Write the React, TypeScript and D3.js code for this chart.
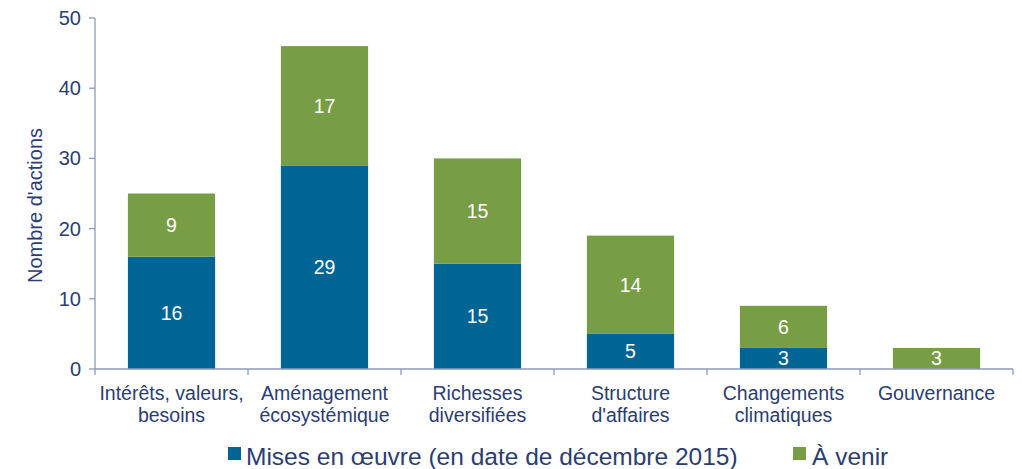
import React from "react";
import * as d3 from "d3";

const categories = [
  ["Intérêts, valeurs,", "besoins"],
  ["Aménagement", "écosystémique"],
  ["Richesses", "diversifiées"],
  ["Structure", "d'affaires"],
  ["Changements", "climatiques"],
  ["Gouvernance"],
];
const misesEnOeuvre = [16, 29, 15, 5, 3, 0];
const aVenir = [9, 17, 15, 14, 6, 3];
const yTicks = [0, 10, 20, 30, 40, 50];
const seriesNames = ["Mises en œuvre (en date de décembre 2015)", "À venir"];
const colors = ["#006494", "#779d45"];

const W = 1022;
const H = 469;
const left = 95;
const right = 1013;
const top = 18;
const bottom = 369;
const textColor = "#2b3d72";
const axisColor = "#8d9bbb";
const font = "'Liberation Sans', Arial, sans-serif";

export default function App() {
  const x = d3
    .scaleBand<number>()
    .domain(categories.map((_, i) => i))
    .range([left, right])
    .paddingInner(0.43)
    .paddingOuter(0.215);
  const y = d3.scaleLinear().domain([0, 50]).range([bottom, top]);
  const step = (right - left) / categories.length;

  const stack = d3
    .stack<number>()
    .keys(["a", "b"])
    .value((i, k) => (k === "a" ? misesEnOeuvre[i] : aVenir[i]))(
    categories.map((_, i) => i)
  );

  return (
    <svg width={W} height={H} style={{ position: "absolute", left: 0, top: 0, fontFamily: font }}>
      <rect width={W} height={H} fill="#fff" />
      {stack.map((layer, li) =>
        layer.map((d, i) => {
          const v = d[1] - d[0];
          if (v <= 0) return null;
          const bx = x(i)!;
          const y0 = y(d[0]);
          const y1 = y(d[1]);
          return (
            <g key={`${li}-${i}`}>
              <rect x={bx} y={y1} width={x.bandwidth()} height={y0 - y1} fill={colors[li]} />
              <text
                x={bx + x.bandwidth() / 2}
                y={(y0 + y1) / 2 + 7}
                textAnchor="middle"
                fill="#fff"
                fontSize={19.5}
              >
                {v}
              </text>
            </g>
          );
        })
      )}
      {/* y axis */}
      <line x1={left} x2={left} y1={top} y2={bottom} stroke={axisColor} strokeWidth={1.3} />
      {yTicks.map((t) => (
        <g key={t}>
          <line x1={left - 6} x2={left} y1={y(t)} y2={y(t)} stroke={axisColor} strokeWidth={1.3} />
          <text x={left - 14} y={y(t) + 7} textAnchor="end" fill={textColor} fontSize={20}>
            {t}
          </text>
        </g>
      ))}
      {/* x axis */}
      <line x1={left} x2={right} y1={bottom} y2={bottom} stroke={axisColor} strokeWidth={1.3} />
      {d3.range(categories.length + 1).map((i) => (
        <line
          key={i}
          x1={left + i * step}
          x2={left + i * step}
          y1={bottom}
          y2={bottom + 6}
          stroke={axisColor}
          strokeWidth={1.3}
        />
      ))}
      {categories.map((lines, i) => (
        <text
          key={i}
          x={x(i)! + x.bandwidth() / 2}
          y={400}
          textAnchor="middle"
          fill={textColor}
          fontSize={19.5}
        >
          {lines.map((l, j) => (
            <tspan key={j} x={x(i)! + x.bandwidth() / 2} dy={j === 0 ? 0 : 21.5}>
              {l}
            </tspan>
          ))}
        </text>
      ))}
      <text
        transform={`translate(42, ${(top + bottom) / 2 + 12}) rotate(-90)`}
        textAnchor="middle"
        fill={textColor}
        fontSize={20}
      >
        Nombre d'actions
      </text>
      {/* legend */}
      <rect x={228} y={447} width={13} height={13} fill={colors[0]} />
      <text x={246} y={465} fill={textColor} fontSize={24.5}>
        {seriesNames[0]}
      </text>
      <rect x={793} y={447} width={13} height={13} fill={colors[1]} />
      <text x={812} y={465} fill={textColor} fontSize={24.5}>
        {seriesNames[1]}
      </text>
    </svg>
  );
}
